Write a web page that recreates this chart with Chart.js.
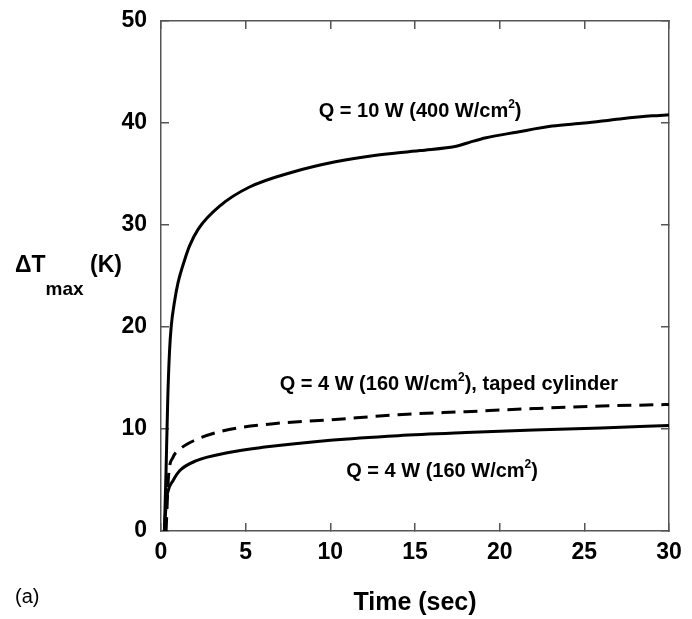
<!DOCTYPE html>
<html>
<head>
<meta charset="utf-8">
<script src="https://cdn.jsdelivr.net/npm/chart.js@4/dist/chart.umd.min.js"></script>
<style>
  html, body { margin: 0; padding: 0; background: #fff; }
  #wrap { width: 692px; height: 619px; position: relative; }
</style>
</head>
<body>
<div id="wrap"><canvas id="chart"></canvas></div>
<script>
// Q = 10 W (400 W/cm2)
const time10W = [0.2, 0.3, 0.4, 0.5, 0.6, 0.8, 1.0, 1.4, 1.7, 2.2, 3.5, 5.2, 7.8, 10.3, 12.5, 15.3, 17.5, 18.3, 19.2, 21, 23.1, 25, 27.1, 29, 30];
const temp10W = [0, 6, 13, 17.5, 20, 22.5, 24.3, 26.6, 28.0, 29.6, 31.9, 33.7, 35.2, 36.2, 36.8, 37.3, 37.75, 38.15, 38.55, 39.1, 39.7, 40.0, 40.4, 40.7, 40.8];

// Q = 4 W (160 W/cm2), taped cylinder
const time4WTaped = [0.3, 0.45, 0.7, 1.1, 2.0, 3.6, 6.5, 10, 14, 18, 22, 26, 30];
const temp4WTaped = [0, 5.5, 7.2, 8.0, 8.9, 9.8, 10.5, 10.9, 11.4, 11.7, 12.0, 12.25, 12.4];

// Q = 4 W (160 W/cm2)
const time4W = [0.2, 0.3, 0.4, 0.7, 1.1, 2.1, 4.0, 6.0, 10, 14, 18, 22, 26, 30];
const temp4W = [0, 2.5, 3.8, 4.9, 5.9, 6.9, 7.7, 8.2, 8.9, 9.35, 9.65, 9.9, 10.1, 10.35];

const xTicks = [0, 5, 10, 15, 20, 25, 30];
const yTicks = [0, 10, 20, 30, 40, 50];

const FONT = '"Liberation Sans", Arial, sans-serif';
const axisColor = '#555';

const toPoints = (xs, ys) => xs.map((x, i) => ({ x, y: ys[i] }));

// curve labels: text parts (second item flags superscript), position in data units
const curveLabels = [
  { parts: [['Q = 10 W (400 W/cm', 0], ['2', 1], [')', 0]], x: 15.3, y: 41.3 },
  { parts: [['Q = 4 W (160 W/cm', 0], ['2', 1], ['), taped cylinder', 0]], x: 17.0, y: 14.5 },
  { parts: [['Q = 4 W (160 W/cm', 0], ['2', 1], [')', 0]], x: 16.6, y: 6.0 },
];

function drawParts(ctx, parts, cx, cy) {
  const big = `bold 20px ${FONT}`;
  const small = `bold 12px ${FONT}`;
  let total = 0;
  parts.forEach(([t, sup]) => {
    ctx.font = sup ? small : big;
    total += ctx.measureText(t).width;
  });
  let x = cx - total / 2;
  ctx.textAlign = 'left';
  ctx.textBaseline = 'alphabetic';
  const base = cy + 7;
  parts.forEach(([t, sup]) => {
    ctx.font = sup ? small : big;
    ctx.fillText(t, x, sup ? base - 9 : base);
    x += ctx.measureText(t).width;
  });
}

const annotations = {
  id: 'annotations',
  afterDraw(chart) {
    const { ctx, scales } = chart;
    ctx.save();
    ctx.fillStyle = '#000';
    curveLabels.forEach(l => {
      drawParts(ctx, l.parts, scales.x.getPixelForValue(l.x), scales.y.getPixelForValue(l.y));
    });

    // y axis title with subscript
    ctx.textAlign = 'left';
    ctx.textBaseline = 'alphabetic';
    ctx.font = `bold 23px ${FONT}`;
    ctx.fillText('\u0394T', 15, 272);
    const w = ctx.measureText('\u0394T').width;
    ctx.font = `bold 19px ${FONT}`;
    ctx.fillText('max', 15 + w, 295);
    ctx.font = `bold 23px ${FONT}`;
    ctx.fillText('(K)', 90, 272);

    // panel tag
    ctx.font = `20px ${FONT}`;
    ctx.fillText('(a)', 15, 603);
    ctx.restore();
  }
};

const tickFont = { family: FONT, size: 23, weight: 'bold' };

// unlabeled top/right axes carry the inward ticks of the frame
function mirrorAxis(position) {
  return {
    type: 'linear',
    position,
    grid: { drawOnChartArea: false, tickLength: -8, color: axisColor, lineWidth: 1.5 },
    border: { color: axisColor, width: 1.5 },
    ticks: { display: false },
  };
}

new Chart(document.getElementById('chart'), {
  type: 'line',
  data: {
    datasets: [
      {
        label: 'Q = 10 W (400 W/cm2)',
        data: toPoints(time10W, temp10W),
        borderColor: '#000',
        borderWidth: 3,
        pointRadius: 0,
        cubicInterpolationMode: 'monotone',
      },
      {
        label: 'Q = 4 W (160 W/cm2), taped cylinder',
        data: toPoints(time4WTaped, temp4WTaped),
        borderColor: '#000',
        borderWidth: 3,
        borderDash: [14, 8],
        pointRadius: 0,
        cubicInterpolationMode: 'monotone',
      },
      {
        label: 'Q = 4 W (160 W/cm2)',
        data: toPoints(time4W, temp4W),
        borderColor: '#000',
        borderWidth: 3,
        pointRadius: 0,
        cubicInterpolationMode: 'monotone',
      },
    ]
  },
  options: {
    responsive: true,
    maintainAspectRatio: false,
    animation: false,
    layout: { padding: 0 },
    plugins: {
      legend: { display: false },
      tooltip: { enabled: false }
    },
    scales: {
      x: {
        type: 'linear',
        position: 'bottom',
        min: 0,
        max: 30,
        afterBuildTicks: s => { s.ticks = xTicks.map(v => ({ value: v })); },
        // fixed box size; end labels may overhang without shrinking the plot
        afterFit: s => { s.height = 88; s.paddingLeft = 0; s.paddingRight = 0; },
        grid: { drawOnChartArea: false, tickLength: -8, color: axisColor, lineWidth: 1.5 },
        border: { color: axisColor, width: 1.5 },
        ticks: { color: '#000', font: tickFont, padding: 16, maxRotation: 0 },
        title: {
          display: true,
          text: 'Time (sec)',
          color: '#000',
          font: { family: FONT, size: 25, weight: 'bold' },
          padding: { top: 0, bottom: 1 }
        }
      },
      y: {
        type: 'linear',
        position: 'left',
        min: 0,
        max: 50,
        afterBuildTicks: s => { s.ticks = yTicks.map(v => ({ value: v })); },
        afterFit: s => { s.width = 161; s.paddingTop = 0; s.paddingBottom = 0; },
        grid: { drawOnChartArea: false, tickLength: -8, color: axisColor, lineWidth: 1.5 },
        border: { color: axisColor, width: 1.5 },
        ticks: { color: '#000', font: tickFont, padding: 22 }
      },
      xTop: {
        ...mirrorAxis('top'),
        min: 0,
        max: 30,
        afterBuildTicks: s => { s.ticks = xTicks.map(v => ({ value: v })); },
        afterFit: s => { s.height = 21; }
      },
      yRight: {
        ...mirrorAxis('right'),
        min: 0,
        max: 50,
        afterBuildTicks: s => { s.ticks = yTicks.map(v => ({ value: v })); },
        afterFit: s => { s.width = 23; }
      }
    }
  },
  plugins: [annotations]
});
</script>
</body>
</html>
